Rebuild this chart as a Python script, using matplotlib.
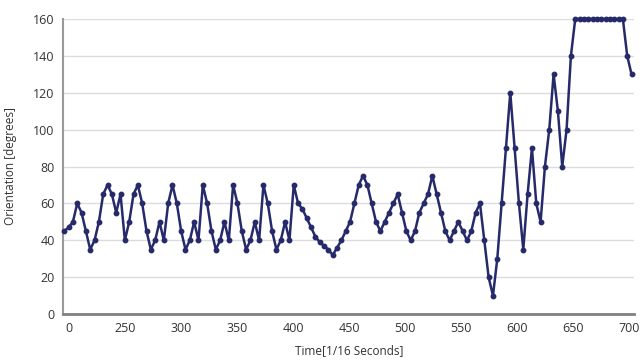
import numpy as np
import matplotlib
matplotlib.use("Agg")
import matplotlib.pyplot as plt

# orientation samples (degrees), evenly spaced in time
orientation = [
    45, 47, 50, 60, 55, 45, 35, 40, 50, 65, 70, 65, 55, 65, 40, 50, 65, 70, 60,
    45, 35, 40, 50, 40, 60, 70, 60, 45, 35, 40, 50, 40, 70, 60, 45, 35, 40, 50,
    40, 70, 60, 45, 35, 40, 50, 40, 70, 60, 45, 35, 40, 50, 40, 70, 60, 57, 52,
    47, 42, 39, 37, 35, 32, 36, 40, 45, 50, 60, 70, 75, 70, 60, 50, 45, 50, 55,
    60, 65, 55, 45, 40, 45, 55, 60, 65, 75, 65, 55, 45, 40, 45, 50, 45, 40, 45,
    55, 60, 40, 20, 10, 30, 60, 90, 120, 90, 60, 35, 65, 90, 60, 50, 80, 100,
    130, 110, 80, 100, 140, 160, 160, 160, 160, 160, 160, 160, 160, 160, 160,
    160, 160, 140, 130,
]
t_start, t_end = 196, 702
time = np.linspace(t_start, t_end, len(orientation))

xtick_pos = [200, 250, 300, 350, 400, 450, 500, 550, 600, 650, 700]
xtick_labels = ["0", "250", "300", "350", "400", "450", "500", "550", "600", "650", "700"]
yticks = [0, 20, 40, 60, 80, 100, 120, 140, 160]

plt.rcParams['font.family'] = ['Open Sans', 'DejaVu Sans']

fig = plt.figure(figsize=(6.44, 3.64), dpi=100)
ax = fig.add_axes([0.098, 0.137, 0.887, 0.811])

color = '#262a6b'
ax.plot(time, orientation, color=color, lw=1.8, marker='o', ms=3.2, zorder=3,
        clip_on=False)

ax.set_xlim(195, 704.5)
ax.set_ylim(0, 160)
ax.set_yticks(yticks)
ax.set_xticks(xtick_pos)
ax.set_xticklabels(xtick_labels)
ax.tick_params(length=0, labelsize=9, colors='#333333', pad=6)

ax.grid(axis='y', color='#dcdcdc', lw=1)
ax.set_axisbelow(True)
for s in ['top', 'right']:
    ax.spines[s].set_visible(False)
ax.spines['left'].set_color('#9a9a9a')
ax.spines['left'].set_linewidth(1.5)
ax.spines['bottom'].set_color('#808080')
ax.spines['bottom'].set_linewidth(2)

ax.set_xlabel('Time[1/16 Seconds]', fontsize=8.5, color='#333333', labelpad=6)
ax.set_ylabel('Orientation [degrees]', fontsize=8.5, color='#333333', labelpad=12)

fig.savefig('out.png', dpi=100)
